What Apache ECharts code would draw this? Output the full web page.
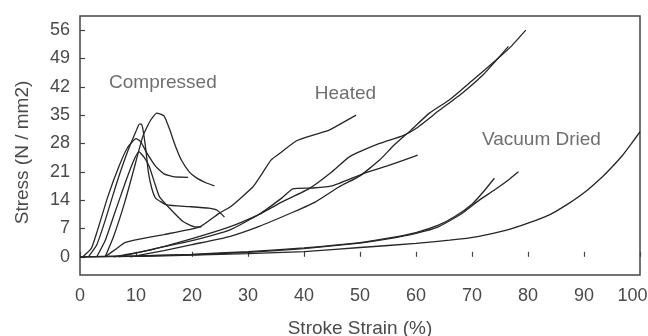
<!DOCTYPE html>
<html>
<head>
<meta charset="utf-8">
<script src="https://cdn.jsdelivr.net/npm/echarts@6/dist/echarts.min.js"></script>
<style>html,body{margin:0;padding:0;background:#fff}#c{width:648px;height:336px}</style>
</head>
<body>
<div id="c"></div>
<script>
// Compressed samples
const compressed1 = [[1.5,0],[3,3],[4.5,9],[6.5,18],[8.5,26],[10,31],[10.6,32.8],[11.0,32.8],[11.3,31],[11.8,26],[12.2,21],[12.8,17],[13.5,14.5],[15.5,12.8],[19.5,12.4],[23,12],[24.5,11.5],[25.8,9.8]];
const compressed2 = [[0.5,0],[2,2],[3,6],[5,15],[7,22.5],[8.5,27],[10,29.2],[10.8,28.5],[12,25.5],[13.6,22.2],[15,20.5],[16.6,19.8],[19.3,19.6]];
const compressed3 = [[3,0],[4.5,4],[6,10],[8,18],[9.5,23.5],[10.5,26],[11.5,24.5],[12.4,22.2],[13.5,17.5],[14.2,14.8],[16,12],[18.4,8.7],[20.5,7.4],[21.7,7.4]];
const compressed4 = [[4.5,0],[6,5],[8,13.5],[9.5,21],[11.2,29.7],[12.5,33.5],[13.7,35.5],[15,34.8],[16,31.5],[17,27.5],[18.1,23.9],[19.5,21],[20.8,19.5],[22.5,18.3],[24,17.5]];
// Heated samples
const heated1 = [[4.5,0],[6.5,2],[8,3.5],[10.4,4.3],[15,5.5],[21.4,7.4],[24.9,10.8],[27,12.5],[30.9,17.3],[32.5,20.5],[34.1,23.9],[36,25.9],[38.6,28.6],[41.5,30],[44.5,31.3],[47,33.2],[49.3,35]];
const heated2 = [[7,0],[15,2.5],[20,4],[26.7,6.6],[32,10.5],[36,14.5],[38,16.8],[41.6,17],[45,17.5],[50.5,20.5],[55,22.5],[60.3,25.1]];
const heated3 = [[6,0],[12,1.5],[20,4.5],[26.7,7.4],[32,10.5],[36,13.5],[41,16.9],[45,21],[48.1,24.7],[53.5,28],[57.6,29.9],[60,31.7],[64,36],[68.3,40.5],[72,45],[74.3,48.5],[76.5,52]];
const heated4 = [[9,0],[15,1.5],[20,3],[26.7,5.0],[32,7.5],[38,11],[42,13.5],[46.3,17.3],[50,20],[53.5,23.9],[56,27.5],[59.1,31.3],[62.4,35.5],[66,38.8],[70,43.5],[74.3,48.6],[77,52],[79.6,56]];
// Vacuum dried samples
const vacuum1 = [[0,0],[10,0.2],[20,0.6],[30,1.3],[40,2.2],[50,3.5],[55,4.6],[60,6],[64,7.8],[67,10],[70,13],[72,16],[74,19.4]];
const vacuum2 = [[0,0],[10,0.2],[20,0.5],[30,1.1],[40,2],[50,3.4],[55,4.4],[60,5.8],[64,7.4],[68,10.5],[71.3,14],[74,16.5],[76.5,19],[78.3,21]];
const vacuum3 = [[0,0],[10,0.1],[20,0.4],[30,0.8],[40,1.3],[50,2.3],[60,3.3],[66,4.1],[71,5],[76,6.5],[80,8.3],[84,10.5],[87.3,13.2],[90,15.8],[93.3,19.8],[95,22.2],[96.9,25.1],[98.5,28],[100,30.9]];

const yTicks = [0,7,14,21,28,35,42,49,56];
const groupLabels = [
  {name:'Compressed', x:14.8, y:43.0},
  {name:'Heated', x:47.4, y:40.3},
  {name:'Vacuum Dried', x:82.4, y:29.0}
];

const curves = [compressed1,compressed2,compressed3,compressed4,heated1,heated2,heated3,heated4,vacuum1,vacuum2,vacuum3];
const FONT = 'Liberation Sans, Arial, sans-serif';
const TXT = '#4a4a4a';

const series = curves.map(d => ({
  type:'line', data:d, showSymbol:false, smooth:0.15,
  lineStyle:{color:'#262626', width:1.3}, silent:true, animation:false
}));
series.push({
  type:'scatter', symbolSize:0, animation:false, silent:true,
  data: groupLabels.map(g => ({value:[g.x,g.y], name:g.name})),
  label:{show:true, position:'inside', formatter:p=>p.name, color:TXT, fontSize:19, fontFamily:FONT}
});

const chart = echarts.init(document.getElementById('c'), null, {renderer:'canvas'});
chart.setOption({
  animation:false,
  backgroundColor:'#fff',
  grid:{left:80, right:8, top:16, bottom:61, containLabel:false, outerBoundsMode:'none',
        show:true, borderColor:'#444', borderWidth:1.5, backgroundColor:'transparent'},
  xAxis:{
    type:'value', min:0, max:100, interval:10,
    axisLine:{show:false},
    axisTick:{show:true, inside:true, length:5, lineStyle:{color:'#444', width:1.2}},
    axisLabel:{color:TXT, fontSize:18, fontFamily:FONT, margin:12,
      formatter: v => v === 100 ? '{m|100}' : String(v),
      rich:{m:{color:TXT, fontSize:18, fontFamily:FONT, padding:[0,15,0,0]}}},
    splitLine:{show:false},
    name:'Stroke Strain (%)', nameLocation:'middle', nameGap:44,
    nameTextStyle:{color:TXT, fontSize:19, fontFamily:FONT}
  },
  yAxis:{
    type:'value', min:-4.5, max:59.5,
    axisLine:{show:false},
    axisTick:{show:true, inside:true, length:5, customValues:yTicks, lineStyle:{color:'#444', width:1.2}},
    axisLabel:{color:TXT, fontSize:18, fontFamily:FONT, margin:10, customValues:yTicks},
    splitLine:{show:false},
    name:'Stress (N / mm2)', nameLocation:'middle', nameGap:48, nameRotate:90,
    nameTextStyle:{color:TXT, fontSize:19, fontFamily:FONT, padding:[0,14,0,0]}
  },
  series:series
});
</script>
</body>
</html>
